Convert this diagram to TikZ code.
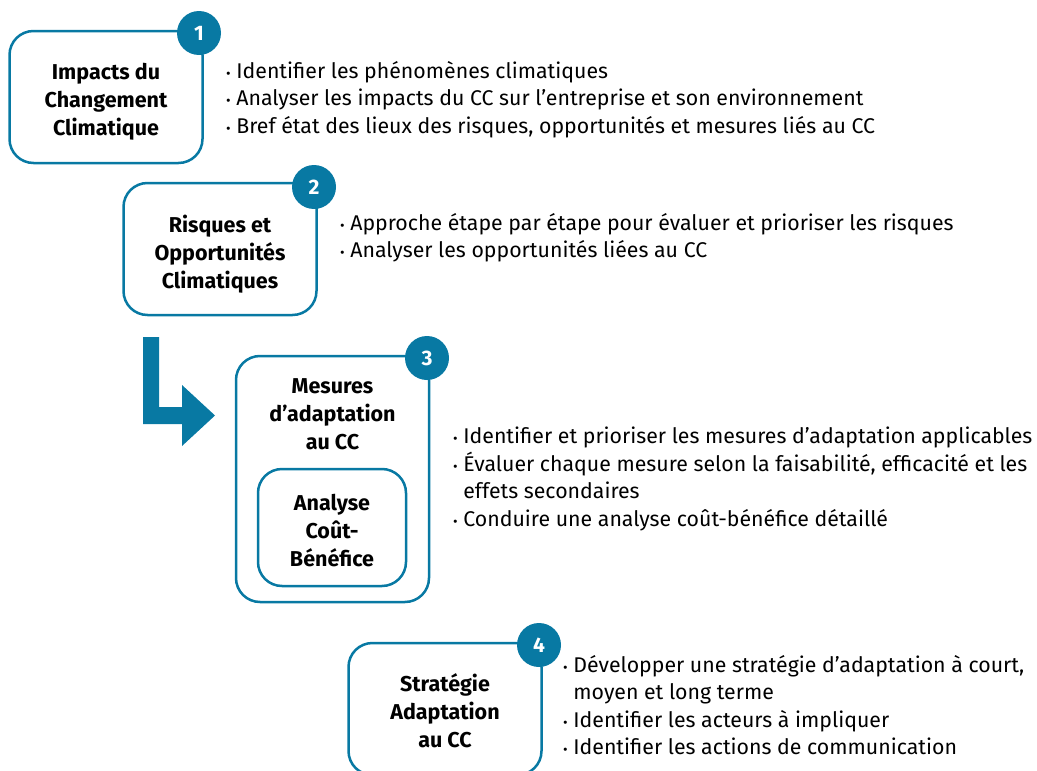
\documentclass[tikz,border=0pt]{standalone}
\usepackage{fontspec}
\setmainfont{Fira Sans}
\usetikzlibrary{positioning}
\definecolor{petrol}{RGB}{8,121,163}
\tikzset{
  stepbox/.style = {
    draw=petrol, line width=2.5pt, rounded corners=24pt,
    minimum width=193pt, minimum height=132pt
  },
  steptitle/.style = {
    align=center, font=\fontsize{21.5}{28}\selectfont\bfseries
  },
  numdot/.style = {
    circle, fill=petrol, text=white, minimum size=44pt, inner sep=0pt,
    font=\fontsize{21}{24}\selectfont\bfseries
  },
  bullets/.style = {
    anchor=north west, align=left, inner sep=0pt,
    font=\fontsize{21.3}{27.5}\selectfont
  }
}
\newcommand{\pt}{{\fontsize{14}{14}\selectfont•}\ }
\newcommand{\ind}{\phantom{\pt}}

\begin{document}
\begin{tikzpicture}[x=1pt,y=-1pt]
  \useasboundingbox (0,0) rectangle (1037,771);
  % step 1
  \node[stepbox] (box1) at (106,97) {};
  \node[steptitle] (title1) at (106,102) {Impacts du\\Changement\\Climatique};
  \node[numdot] (n1) at (199,33) {1};
  \node[bullets] (txt1) at (226,61) {\pt Identifier les phénomènes climatiques\\
    \pt Analyser les impacts du CC sur l’entreprise et son environnement\\
    \pt Bref état des lieux des risques, opportunités et mesures liés au CC};
  % step 2
  \node[stepbox] (box2) at (220,249) {};
  \node[steptitle] (title2) at (220,254) {Risques et\\Opportunités\\Climatiques};
  \node[numdot] (n2) at (314,187) {2};
  \node[bullets] (txt2) at (340,213) {\pt Approche étape par étape pour évaluer et prioriser les risques\\
    \pt Analyser les opportunités liées au CC};
  % arrow
  \fill[petrol] (143,337) -- (159,337) -- (159,407) -- (182,407) -- (182,385)
    -- (215,415.5) -- (182,446) -- (182,424) -- (143,424) -- cycle;
  % step 3
  \node[stepbox,minimum height=246pt] (box3) at (332.5,479) {};
  \node[steptitle] (title3) at (332.5,414) {Mesures\\d’adaptation\\au CC};
  \node[stepbox,minimum width=148pt,minimum height=117pt] (cba) at (332,527.5) {};
  \node[steptitle] (cbatitle) at (332,530.5) {Analyse\\Coût-\\Bénéfice};
  \node[numdot] (n3) at (427,358) {3};
  \node[bullets] (txt3) at (453,427) {\pt Identifier et prioriser les mesures d’adaptation applicables\\
    \pt Évaluer chaque mesure selon la faisabilité, efficacité et les\\
    \ind effets secondaires\\
    \pt Conduire une analyse coût-bénéfice détaillé};
  % step 4
  \node[stepbox] (box4) at (445,709) {};
  \node[steptitle] (title4) at (445,711) {Stratégie\\Adaptation\\au CC};
  \node[numdot] (n4) at (539,645) {4};
  \node[bullets] (txt4) at (563,655) {\pt Développer une stratégie d’adaptation à court,\\
    \ind moyen et long terme\\
    \pt Identifier les acteurs à impliquer\\
    \pt Identifier les actions de communication};
\end{tikzpicture}
\end{document}
